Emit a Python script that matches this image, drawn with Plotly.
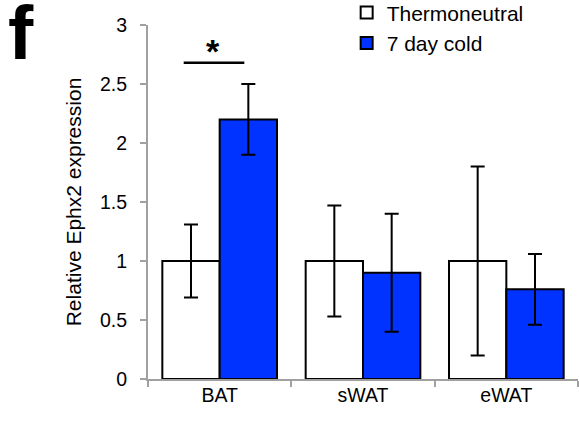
import plotly.graph_objects as go

categories = ["BAT", "sWAT", "eWAT"]
thermo_vals = [1.0, 1.0, 1.0]
thermo_err = [0.31, 0.47, 0.80]
cold_vals = [2.2, 0.9, 0.76]
cold_err = [0.30, 0.50, 0.30]
series_names = ["Thermoneutral", "7 day cold"]
y_ticks = [0, 0.5, 1, 1.5, 2, 2.5, 3]

# significance bracket over BAT (category-index units, data y)
sig_x = [-0.251, 0.172]
sig_y = 2.68
star_x = -0.046
star_y = 2.78

FONT = "Liberation Sans, Arial, sans-serif"
AXIS_GRAY = "#A0A0A0"
BLUE = "#0033FF"

fig = go.Figure()
fig.add_trace(go.Bar(
    x=categories, y=thermo_vals, name=series_names[0],
    marker=dict(color="white", line=dict(color="black", width=2)),
    error_y=dict(type="data", array=thermo_err, color="black", thickness=2, width=7),
))
fig.add_trace(go.Bar(
    x=categories, y=cold_vals, name=series_names[1],
    marker=dict(color=BLUE, line=dict(color="black", width=2)),
    error_y=dict(type="data", array=cold_err, color="black", thickness=2, width=7),
))

fig.add_shape(type="line", xref="x", yref="y", x0=sig_x[0], x1=sig_x[1], y0=sig_y, y1=sig_y,
              line=dict(color="black", width=2.5))
fig.add_annotation(x=star_x, y=star_y, xref="x", yref="y", text="<b>*</b>", showarrow=False,
                   font=dict(family=FONT, size=34, color="black"), yanchor="middle")
fig.add_annotation(x=-0.33, y=1.104, xref="paper", yref="paper", text="<b>f</b>", showarrow=False,
                   xanchor="left", yanchor="top", font=dict(family=FONT, size=76, color="black"))

fig.update_layout(
    width=579, height=424,
    margin=dict(l=148, r=1, t=25, b=45, autoexpand=False),
    paper_bgcolor="white", plot_bgcolor="white",
    barmode="group", bargap=0.2, bargroupgap=0,
    font=dict(family=FONT, size=20, color="black"),
    legend=dict(x=0.462, y=1.092, xanchor="left", yanchor="top",
                font=dict(family=FONT, size=21, color="black"),
                bgcolor="rgba(0,0,0,0)", traceorder="normal"),
    showlegend=True,
)
fig.update_xaxes(
    type="category", showline=True, linecolor=AXIS_GRAY, linewidth=2,
    ticks="outside", tickson="boundaries", ticklen=6, tickcolor=AXIS_GRAY, tickwidth=2,
    showgrid=False, tickfont=dict(family=FONT, size=19.5, color="black"),
    range=[-0.5, 2.5], fixedrange=True, ticklabelstandoff=-2,
)
fig.update_yaxes(
    range=[0, 3], tickvals=y_ticks, ticktext=[f"{v:g}" for v in y_ticks],
    showline=True, linecolor=AXIS_GRAY, linewidth=2,
    ticks="outside", ticklen=6, tickcolor=AXIS_GRAY, tickwidth=2,
    showgrid=False, zeroline=False, ticklabelstandoff=9,
    tickfont=dict(family=FONT, size=19.5, color="black"),
    title=dict(text="Relative Ephx2 expression", font=dict(family=FONT, size=21, color="black"), standoff=13),
)

fig.write_html("out.html", config={"displayModeBar": False},
               post_script="document.body.style.margin='0px';")
